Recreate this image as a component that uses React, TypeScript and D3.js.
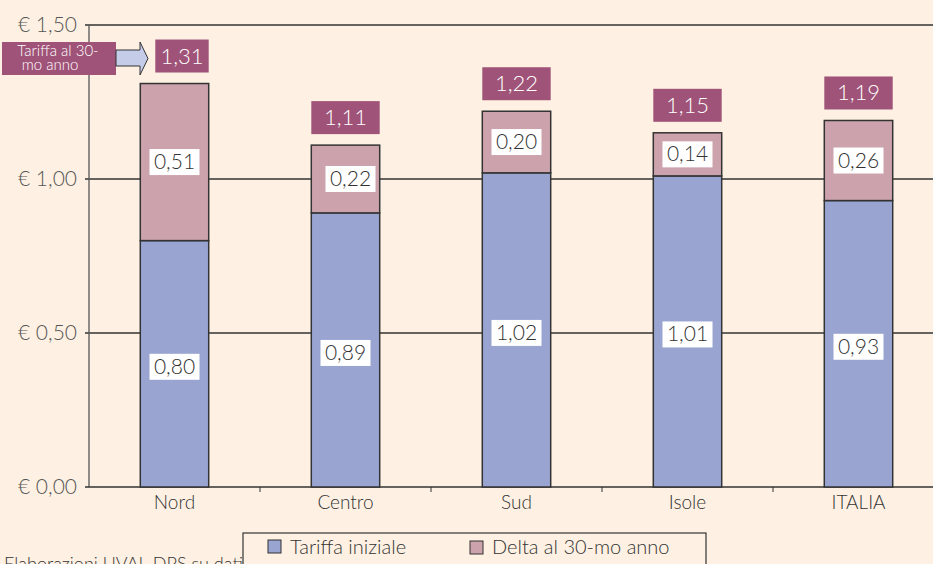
import React from "react";
import * as d3 from "d3";

const regions = ["Nord", "Centro", "Sud", "Isole", "ITALIA"];
const tariffaIniziale = [0.8, 0.89, 1.02, 1.01, 0.93];
const delta30 = [0.51, 0.22, 0.2, 0.14, 0.26];
const totals = [1.31, 1.11, 1.22, 1.15, 1.19];
const yTicks = [0, 0.5, 1, 1.5];

const W = 933;
const H = 564;
const BG = "#FEF1E3";
const BLUE = "#99A4D1";
const PINK = "#CCA3AD";
const PURPLE = "#A05378";
const FONT = "Lato, 'Open Sans', sans-serif";

const fmt = (v: number) => v.toFixed(2).replace(".", ",");

export default function App() {
  const left = 89;
  const x = d3.scaleBand<string>().domain(regions).range([left, left + 171 * 5]).paddingInner(0.6).paddingOuter(0.3);
  const y = d3.scaleLinear().domain([0, 1.5]).range([487, 25]);
  const bw = x.bandwidth();

  const valueLabel = (cx: number, cy: number, v: number, key: string) => (
    <g key={key}>
      <rect x={cx - 25} y={cy - 13} width={50} height={26} fill="#fff" />
      <text x={cx} y={cy + 7} textAnchor="middle" fontSize={21} fontWeight={300} fill="#333" fontFamily={FONT}>
        {fmt(v)}
      </text>
    </g>
  );

  return (
    <svg width={W} height={H} style={{ position: "absolute", left: 0, top: 0, background: BG }}>
      <rect x={0} y={0} width={W} height={H} fill={BG} />
      {/* gridlines */}
      {yTicks.filter((t) => t > 0).map((t) => (
        <line key={t} x1={left - 4} x2={W} y1={y(t)} y2={y(t)} stroke="#333" strokeWidth={1.3} />
      ))}
      {/* y axis */}
      <line x1={left} x2={left} y1={y(1.5)} y2={y(0)} stroke="#555" strokeWidth={1.3} />
      <line x1={left - 4} x2={W} y1={y(0)} y2={y(0)} stroke="#333" strokeWidth={1.3} />
      {yTicks.map((t) => (
        <text key={t} x={77} y={y(t) + 7} textAnchor="end" fontSize={21} fontWeight={300} fill="#555" fontFamily={FONT}>
          {"€ " + fmt(t)}
        </text>
      ))}
      {/* x ticks */}
      {regions.slice(1).map((r) => {
        const tx = (x(r) as number) - (x.step() - bw) / 2;
        return <line key={r} x1={tx} x2={tx} y1={y(0)} y2={y(0) + 5} stroke="#333" strokeWidth={1} />;
      })}
      {regions.map((r) => (
        <text key={r} x={(x(r) as number) + bw / 2} y={y(0) + 22} textAnchor="middle" fontSize={19} fontWeight={300} fill="#333" fontFamily={FONT}>
          {r}
        </text>
      ))}
      {/* bars */}
      {regions.map((r, i) => {
        const bx = x(r) as number;
        const a = tariffaIniziale[i];
        const b = delta30[i];
        return (
          <g key={r}>
            <rect x={bx} y={y(a)} width={bw} height={y(0) - y(a)} fill={BLUE} stroke="#333" strokeWidth={1.5} />
            <rect x={bx} y={y(a + b)} width={bw} height={y(a) - y(a + b)} fill={PINK} stroke="#333" strokeWidth={1.5} />
          </g>
        );
      })}
      {regions.map((r, i) => {
        const cx = (x(r) as number) + bw / 2;
        const a = tariffaIniziale[i];
        const b = delta30[i];
        return (
          <g key={"l" + r}>
            {valueLabel(cx, (y(0) + y(a)) / 2 + 3, a, "a")}
            {valueLabel(cx + (i === 1 ? 5 : 0), (y(a) + y(a + b)) / 2, b, "b")}
          </g>
        );
      })}
      {/* totals */}
      {regions.map((r, i) => {
        const bx = x(r) as number;
        const top = y(tariffaIniziale[i] + delta30[i]);
        const bx0 = i === 0 ? bx + 15 : bx;
        const bwid = i === 0 ? bw - 15 : bw;
        return (
          <g key={"t" + r}>
            <rect x={bx0} y={top - 44} width={bwid} height={33} fill={PURPLE} />
            <text x={bx0 + bwid / 2} y={top - 20} textAnchor="middle" fontSize={22} fontWeight={300} fill="#fff" fontFamily={FONT}>
              {fmt(totals[i])}
            </text>
          </g>
        );
      })}
      {/* annotation */}
      <rect x={2} y={42} width={114} height={33} fill={PURPLE} />
      <text x={58} y={56} textAnchor="middle" fontSize={15} fontWeight={300} fill="#fff" fontFamily={FONT}>Tariffa al 30-</text>
      <text x={50} y={70} textAnchor="middle" fontSize={15} fontWeight={300} fill="#fff" fontFamily={FONT}>mo anno</text>
      <path d="M116,50 L140,50 L140,42 L148,58.5 L140,75 L140,66 L116,66 Z" fill="#C5CCE8" stroke="#333" strokeWidth={1} />
      {/* source */}
      <text x={4} y={570} fontSize={18} fontWeight={300} fill="#333" fontFamily={FONT}>
        Elaborazioni UVAL-DPS su dati Utilities <tspan fontStyle="italic">Blue Book</tspan> 2006
      </text>
      {/* legend */}
      <rect x={243} y={533} width={463} height={40} fill={BG} stroke="#333" strokeWidth={1.2} />
      <rect x={268} y={540} width={13} height={13} fill={BLUE} stroke="#333" strokeWidth={1} />
      <text x={290} y={554} fontSize={20} fontWeight={300} fill="#333" fontFamily={FONT}>Tariffa iniziale</text>
      <rect x={470} y={541} width={13} height={13} fill={PINK} stroke="#333" strokeWidth={1} />
      <text x={492} y={554} fontSize={20} fontWeight={300} fill="#333" fontFamily={FONT}>Delta al 30-mo anno</text>
    </svg>
  );
}
